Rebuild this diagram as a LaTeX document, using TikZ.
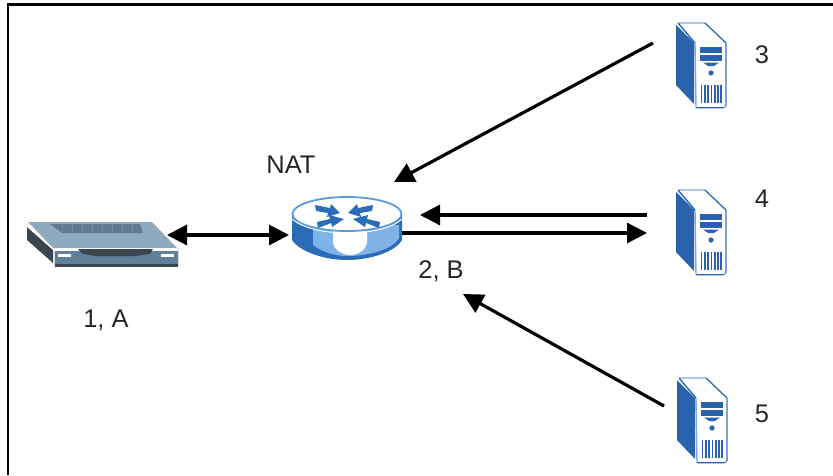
\documentclass[tikz,border=0pt]{standalone}
\usepackage{fontspec}
\setmainfont{Liberation Sans}
\usetikzlibrary{arrows.meta}
\definecolor{srvblue}{HTML}{2A62AC}
\definecolor{srvlight}{HTML}{7FAAE0}
\definecolor{rtblue}{HTML}{2B6CB8}
\definecolor{rtlight}{HTML}{7FB2E6}
\definecolor{rtrim}{HTML}{5C9ADF}
\definecolor{mdtop}{HTML}{8FA9BF}
\definecolor{mdgrill}{HTML}{62798F}
\definecolor{mdfront}{HTML}{5F7F9B}
\definecolor{mddark}{HTML}{3D4650}
\tikzset{
  arr/.style={line width=3.2pt,draw=black,-{Triangle[length=20pt,width=20pt]}},
  arrboth/.style={line width=3.2pt,draw=black,{Triangle[length=20pt,width=20pt]}-{Triangle[length=20pt,width=20pt]}},
  lab/.style={font=\fontsize{25.5}{28}\selectfont,text=black!85,inner sep=0pt},
  ghost/.style={inner sep=0pt,outer sep=0pt,minimum height=#1},
  server/.pic={
    \path[fill=white,draw=srvlight,line width=1.4pt,rounded corners=1pt]
      (2,0)--(29,0)--(50,20)--(50,83)--(47,85)--(20,85)--(19,20)--cycle;
    \fill[srvblue] (0,2)--(18,20)--(18,81)--(0,62)--cycle;
    \draw[srvblue,line width=1.1pt] (2,0)--(19,20);
    \draw[srvblue,line width=1.3pt] (20,84.5)--(48,84.5);
    \draw[srvblue,line width=.9pt] (29,0)--(50,20)--(50,83);
    \fill[srvblue] (24,24) rectangle (46,30);
    \fill[srvblue] (24,32) rectangle (46,38);
    \fill[srvblue] (27,39.5)--(43,39.5)--(38,43)--(32,43)--cycle;
    \fill[srvblue] (35,50) circle (2.6);
    \foreach \xv in {25.5,28.8,32.1,35.4,38.7,42,45}
      \draw[srvblue,line width=1.7pt] (\xv,62)--(\xv,80);
  },
}
\begin{document}
\begin{tikzpicture}[x=1pt,y=-1pt]
\useasboundingbox (0,0) rectangle (833,475);
\fill[white] (0,0) rectangle (833,475);
% frame
\draw[black,line width=2.4pt] (8,475)--(8,4.3)--(833,4.3);

% modem
\fill[mddark] (27,227)--(53,250)--(53,263)--(27,240)--cycle;
\fill[mdfront] (54,251)--(178,251)--(178,264)--(54,264)--cycle;
\fill[mddark] (54,263.5) rectangle (178,267);
\draw[black!15,line width=.6pt] (54,251)--(54,267) (178,248)--(178,267);
\fill[mdtop] (28,222)--(152,222)--(177,248)--(53,248)--cycle;
\draw[white,line width=1pt] (27,226)--(53,249)--(177,249);
\fill[mdgrill] (50,224)--(140,224)--(143,233)--(62,233)--cycle;
\foreach \gx in {62,72,82,92,102,112,122,132}
  \draw[mdtop!70!mdgrill,line width=.5pt] (\gx,224.5)--(\gx+1,232.5);
\fill[mddark] (78,249)--(153,249)--(150,254)--(135,256)--(95,256)--(83,254)--cycle;
\fill[white] (58,254) rectangle (71,257);
\fill[white] (161,254) rectangle (174,257);

% router
\fill[rtblue] (292,216)--(292,240) .. controls (300,252) and (325,260) .. (347,260)
  .. controls (370,260) and (395,252) .. (402,240)--(402,216)--cycle;
\fill[rtlight] (313,225)--(313,245) .. controls (322,252) and (335,256) .. (347,256)
  .. controls (368,256) and (392,250) .. (399,238)--(399,225)--cycle;
\fill[white] (333,226)--(333,243) .. controls (335,251) and (343,255) .. (350,255)
  .. controls (358,255) and (366,250) .. (367,243)--(367,226)--cycle;
\path[fill=white,draw=rtrim,line width=1.8pt] (347,214) ellipse[x radius=54.5,y radius=17];
\draw[white,line width=1pt] (292,219) .. controls (305,230) and (330,233) .. (347,233)
  .. controls (365,233) and (390,230) .. (402,219);
\fill[rtblue] (315,205)--(330,208)--(331,204)--(340,213)--(327,217)--(328,213)--(316,211)--cycle;
\fill[rtblue] (373,205)--(358,208)--(357,204)--(348,213)--(361,217)--(360,213)--(372,211)--cycle;
\fill[rtblue] (317,222)--(330,219)--(329,215)--(344,219)--(332,227)--(331,223)--(318,228)--cycle;
\fill[rtblue] (380,222)--(367,219)--(368,215)--(353,219)--(365,227)--(366,223)--(379,228)--cycle;

% servers
\pic at (676,23) {server};
\pic at (676,190) {server};
\pic at (677,378) {server};

% anchor nodes (placed over the artwork)
\node[ghost=32pt,minimum width=140pt] (modem) at (97,235) {};
\node[ghost=62pt,minimum width=110pt] (router) at (347,235) {};
\node[ghost=84pt,minimum width=76pt] (srvc) at (691,65) {};
\node[ghost=84pt,minimum width=82pt] (srvd) at (688,232) {};
\node[ghost=84pt,minimum width=66pt] (srve) at (697,420) {};
\coordinate (natin) at (394,182);
\coordinate (bin) at (463,294);

% labels
\node[lab] (lnat) at (291,165) {NAT};
\node[lab] (la) at (106,320) {1, A};
\node[lab] (lb) at (441,271) {2, B};
\node[lab] (l3) at (762,55) {3};
\node[lab] (l4) at (762,199) {4};
\node[lab] (l5) at (762,414) {5};

% connectors
\draw[arrboth] (modem.east) -- ([xshift=-3pt]router.west);
\draw[arr] ([yshift=22pt]srvc.west) -- (natin);
\draw[arr] ([yshift=17pt]srvd.west) -- ([yshift=20pt,xshift=18pt]router.east);
\draw[arr] ([yshift=2pt]router.east) -- ([yshift=-1pt]srvd.west);
\draw[arr] ([yshift=14pt]srve.west) -- (bin);
\end{tikzpicture}
\end{document}
